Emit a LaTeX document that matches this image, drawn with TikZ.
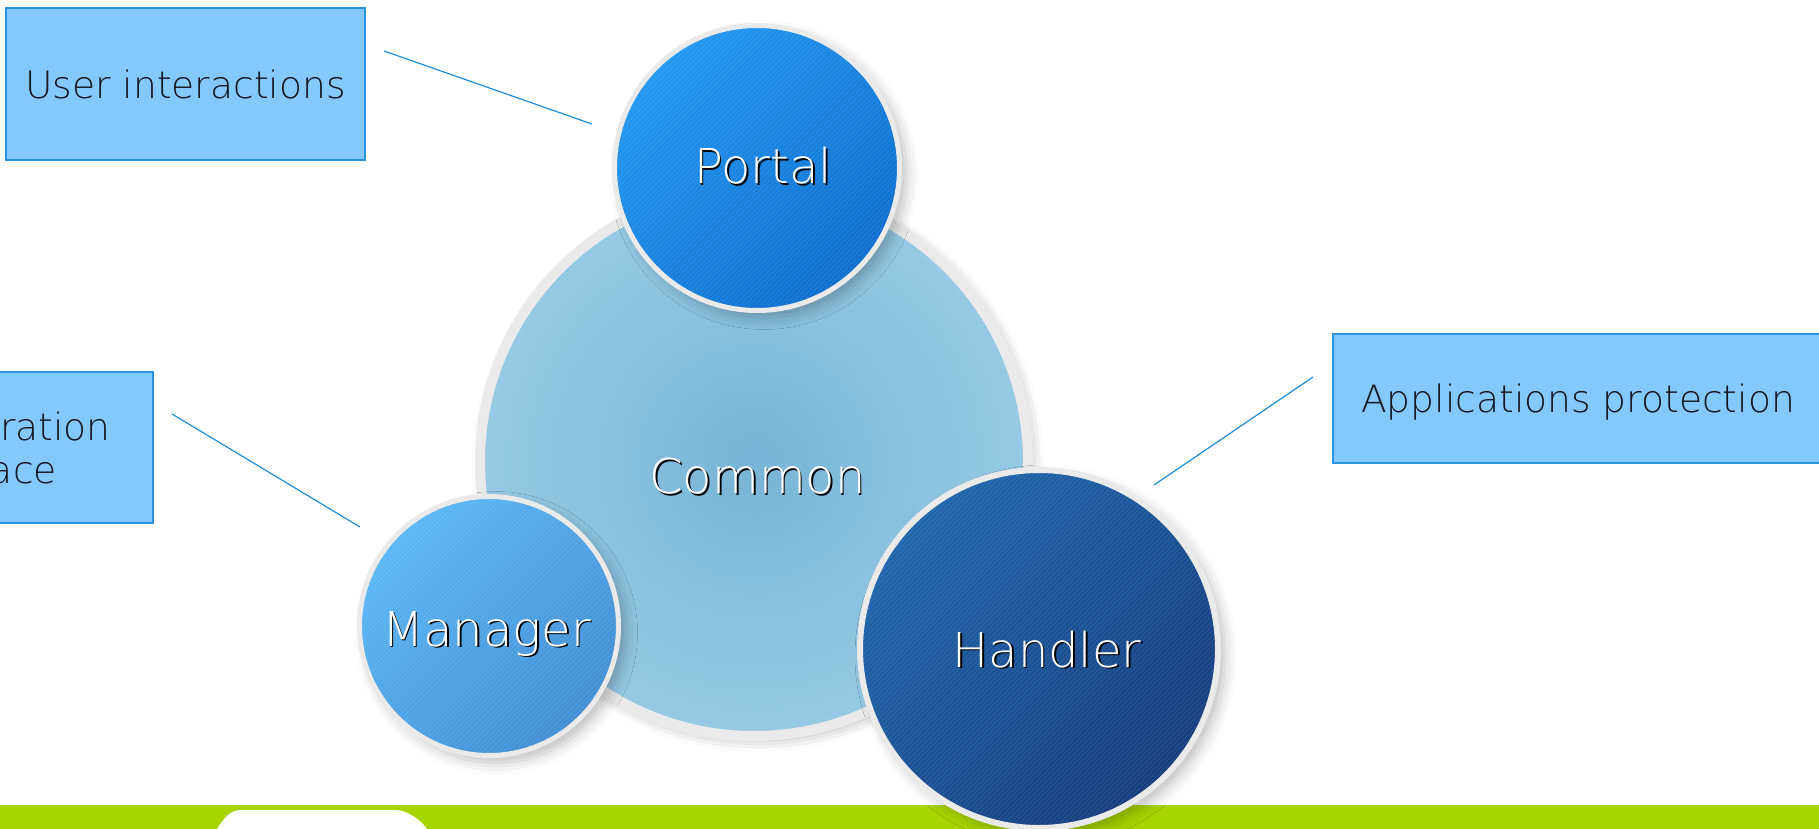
\documentclass[tikz,border=0pt]{standalone}
\usepackage{fontspec}
\newfontfamily\thinfont{DejaVu Sans ExtraLight}
\usetikzlibrary{shadows.blur}

\definecolor{boxfill}{HTML}{84C9FD}
\definecolor{boxline}{HTML}{2A93E0}
\definecolor{wireblue}{HTML}{1E8EE0}
\definecolor{textdark}{HTML}{16161E}
\definecolor{ringgray}{HTML}{EAEAEA}
\definecolor{barlime}{HTML}{A8D400}
\definecolor{commonin}{HTML}{78B4D6}
\definecolor{commonout}{HTML}{96CAE4}
\definecolor{portalA}{HTML}{2298F2}
\definecolor{portalB}{HTML}{0F6ECF}
\definecolor{managerA}{HTML}{5CB8F6}
\definecolor{managerB}{HTML}{428ED3}
\definecolor{handlerA}{HTML}{2066AC}
\definecolor{handlerB}{HTML}{163D7E}

% white label with a dark drop shadow
\newcommand\glowtext[1]{\makebox[0pt][l]{\hspace{1.8pt}\raisebox{-1.8pt}{\textcolor{black}{#1}}}\textcolor{white}{#1}}

\tikzset{
  infobox/.style={draw=boxline, fill=boxfill, line width=1.2pt, text=textdark, text depth=0pt,
    font=\thinfont\fontsize{37.6}{43}\selectfont, align=center, inner sep=0pt},
  wire/.style={wireblue, line width=1.2pt},
  bubble/.style={circle, draw=ringgray, inner sep=0pt,
    blur shadow={shadow xshift=7pt, shadow yshift=-7pt, shadow blur radius=12pt, shadow opacity=25}},
  stripes/.style={path picture={
    \foreach \k in {-500,-495,...,500}
      \draw[white, opacity=0.09, line width=0.8pt]
        ([xshift=\k pt]path picture bounding box.south west) -- ++(500pt,500pt);}},
  caption/.style={inner sep=0pt, font=\thinfont\fontsize{48}{56}\selectfont},
}

\begin{document}
\begin{tikzpicture}[x=1pt, y=-1pt] % one unit = one pixel, y downwards
    \useasboundingbox (0,0) rectangle (1819,829);
    \clip (0,0) rectangle (1819,829);

    % Bottom bar
    \fill[barlime] (0,805) rectangle (1819,829);
    \fill[white] (217,829) .. controls (224,818) and (230,810) .. (241,810) -- (395,810)
        .. controls (406,810) and (419,818) .. (427,829) -- cycle;

    % Callout boxes
    \node[infobox, minimum width=359, minimum height=152] (users) at (185.5,84) {User interactions};
    \node[infobox, minimum width=360, minimum height=151] (admin) at (-27,447.5) {Administration\\interface};
    \node[infobox, minimum width=490, minimum height=129] (apps) at (1578,398.5) {Applications protection};

    % Callout lines
    \coordinate (usersA) at (384,51);  \coordinate (usersB) at (592,124);
    \coordinate (adminA) at (172,414); \coordinate (adminB) at (360,527);
    \coordinate (appsA) at (1313,377); \coordinate (appsB) at (1154,485);
    \draw[wire] (usersA) -- (usersB);
    \draw[wire] (adminA) -- (adminB);
    \draw[wire] (appsA) -- (appsB);

    % Components
    \node[bubble, line width=10pt, minimum size=548, inner color=commonin, outer color=commonout,
        blur shadow={shadow xshift=4pt, shadow yshift=-4pt, shadow opacity=15}] (common) at (754,462) {};
    \node[caption] (commontext) at (757.5,477) {\glowtext{Common}};
    \node[bubble, line width=5pt, minimum size=285, top color=portalA, bottom color=portalB,
        shading angle=45, stripes] (portal) at (757,168) {};
    \node[caption] (portaltext) at (763,167) {\glowtext{Portal}};
    \node[bubble, line width=5pt, minimum size=259, top color=managerA, bottom color=managerB,
        shading angle=45, stripes] (manager) at (489,626) {};
    \node[caption] (managertext) at (486.5,634.5) {\glowtext{Manager}};
    \node[bubble, line width=6pt, minimum size=358, top color=handlerA, bottom color=handlerB,
        shading angle=45, stripes] (handler) at (1039,649) {};
    \node[caption] (handlertext) at (1047,650) {\glowtext{Handler}};
\end{tikzpicture}
\end{document}
